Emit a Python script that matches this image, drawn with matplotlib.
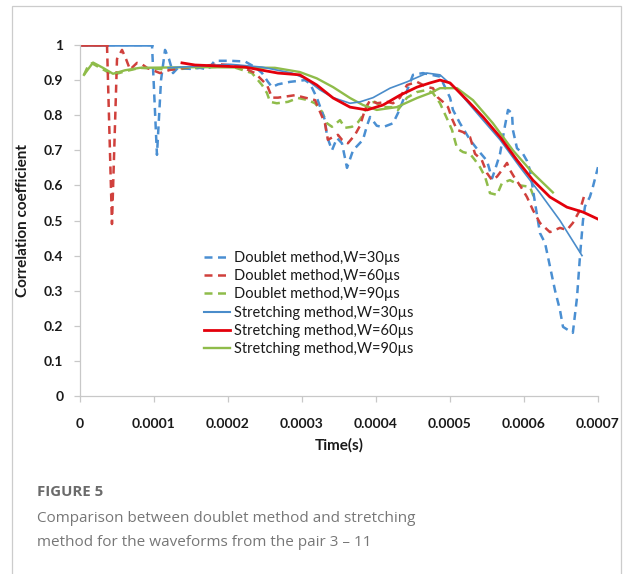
"""Correlation coefficient vs. time: doublet method against stretching method."""

import matplotlib
matplotlib.use("Agg")
import matplotlib.pyplot as plt
import numpy as np
from matplotlib.lines import Line2D
from matplotlib.patches import Rectangle

# time axis in microseconds, converted to seconds when plotting
D30_T = [0, 97.3, 104, 109.5, 114.9, 120.3, 125.7, 132.4, 148.6, 162, 173, 182, 203, 223,
         236.5, 246, 254, 259.5, 267.6, 283.8, 304, 310.8, 320, 331, 333.8, 340.5, 347.3,
         354, 360.8, 369, 382.4, 387.8, 392, 401, 409.5, 423, 429.7, 441.9, 450, 463.5,
         486.5, 500, 504, 513.5, 527, 538, 550, 556.8, 560.8, 567.6, 574.3, 578.4, 583.8,
         585, 590.5, 598.6, 604, 608, 614.9, 621.6, 628.4, 635, 642, 648.6, 652.7, 659.5,
         666, 671.6, 675.7, 679.7, 682.4, 689, 693, 700]
D30_R = [1.0, 1.0, 0.687, 0.90, 0.986, 0.96, 0.92, 0.935, 0.932, 0.935, 0.93, 0.955, 0.955,
         0.953, 0.937, 0.92, 0.895, 0.88, 0.888, 0.895, 0.90, 0.89, 0.85, 0.786, 0.74, 0.70,
         0.735, 0.72, 0.65, 0.70, 0.73, 0.77, 0.795, 0.77, 0.766, 0.777, 0.806, 0.87, 0.915,
         0.92, 0.91, 0.85, 0.815, 0.777, 0.73, 0.70, 0.67, 0.62, 0.644, 0.69, 0.77, 0.815,
         0.806, 0.758, 0.706, 0.69, 0.67, 0.644, 0.55, 0.464, 0.436, 0.37, 0.30, 0.245,
         0.197, 0.188, 0.18, 0.28, 0.40, 0.50, 0.54, 0.567, 0.595, 0.652]

D60_T = [0, 36.5, 43.2, 50, 56.8, 62.2, 67.6, 77, 83.8, 90.5, 108, 121.6, 142, 162, 189, 216,
         236.5, 246, 252.7, 259.5, 267.6, 290.5, 304, 317.6, 321.6, 331, 335, 342, 348.6,
         354, 362, 371.6, 378.4, 385, 392, 401, 414.9, 423, 432.4, 441.9, 455.4, 469, 477,
         483.8, 490.5, 497.3, 502.7, 509.5, 517.6, 527, 533.8, 543, 550, 556.8, 563.5,
         570.3, 577, 581, 587.8, 594.6, 604, 612, 621.6, 635, 648.6, 658, 666, 675.7, 682.4]
D60_R = [1.0, 1.0, 0.49, 0.96, 0.986, 0.96, 0.93, 0.949, 0.945, 0.935, 0.92, 0.929, 0.935,
         0.94, 0.945, 0.94, 0.92, 0.90, 0.886, 0.85, 0.85, 0.857, 0.85, 0.843, 0.823, 0.777,
         0.73, 0.738, 0.744, 0.73, 0.72, 0.744, 0.77, 0.815, 0.843, 0.834, 0.838, 0.834,
         0.85, 0.886, 0.895, 0.88, 0.877, 0.85, 0.838, 0.823, 0.79, 0.758, 0.752, 0.738,
         0.69, 0.672, 0.635, 0.615, 0.625, 0.644, 0.664, 0.644, 0.62, 0.60, 0.567, 0.53,
         0.493, 0.467, 0.479, 0.473, 0.493, 0.53, 0.578]

D90_T = [5.4, 10.8, 16.2, 27, 44.6, 60.8, 81, 121.6, 162, 203, 232.4, 246, 252.7, 256.8, 266,
         281, 294.6, 308, 317.6, 327, 333.8, 340.5, 351.4, 358, 367.6, 375.7, 382.4, 389,
         398.6, 409.5, 423, 429.7, 441.9, 455.4, 469, 477, 486.5, 496, 502.7, 509.5, 517.6,
         527, 533.8, 540.5, 547.3, 554, 563.5, 570.3, 581, 594.6, 608, 614.9]
D90_R = [0.915, 0.94, 0.948, 0.935, 0.915, 0.925, 0.935, 0.93, 0.935, 0.94, 0.92, 0.886,
         0.863, 0.838, 0.834, 0.838, 0.849, 0.843, 0.834, 0.81, 0.777, 0.767, 0.786, 0.764,
         0.767, 0.78, 0.80, 0.834, 0.838, 0.823, 0.823, 0.815, 0.85, 0.866, 0.872, 0.863,
         0.834, 0.79, 0.758, 0.706, 0.695, 0.69, 0.672, 0.652, 0.625, 0.578, 0.573, 0.607,
         0.615, 0.60, 0.596, 0.558]

S30_T = [119, 162, 203, 246, 286.5, 304, 324.3, 342, 364.9, 378.4, 396, 419, 441.9, 463.5,
         469, 486.5, 509.5, 544.6, 567.6, 594.6, 621.6, 648.6, 678.4]
S30_R = [0.935, 0.94, 0.945, 0.937, 0.92, 0.905, 0.872, 0.85, 0.834, 0.838, 0.85, 0.877,
         0.895, 0.915, 0.92, 0.915, 0.872, 0.786, 0.73, 0.652, 0.578, 0.50, 0.40]

S60_T = [137.8, 155.4, 223, 267.6, 297, 320, 342, 364.9, 387.8, 409.5, 432.4, 455.4, 473,
         486.5, 500, 523, 544.6, 567.6, 590.5, 612, 635, 658, 679.7, 700]
S60_R = [0.949, 0.943, 0.937, 0.92, 0.915, 0.886, 0.849, 0.823, 0.815, 0.829, 0.857, 0.88,
         0.892, 0.90, 0.892, 0.843, 0.795, 0.738, 0.672, 0.615, 0.567, 0.538, 0.524, 0.504]

S90_T = [5.4, 17.6, 31, 44.6, 60.8, 81, 162, 263.5, 297, 320, 342, 364.9, 382.4, 401, 428,
         455.4, 473, 486.5, 509.5, 531, 558, 585, 612, 639]
S90_R = [0.915, 0.95, 0.935, 0.918, 0.928, 0.935, 0.937, 0.935, 0.923, 0.905, 0.88, 0.849,
         0.829, 0.815, 0.823, 0.849, 0.863, 0.877, 0.877, 0.843, 0.777, 0.70, 0.635, 0.58]

LABELS = ["Doublet method,W=30µs", "Doublet method,W=60µs", "Doublet method,W=90µs",
          "Stretching method,W=30µs", "Stretching method,W=60µs", "Stretching method,W=90µs"]
X_TICKS = [0, 0.0001, 0.0002, 0.0003, 0.0004, 0.0005, 0.0006, 0.0007]
Y_TICKS = [0, 0.1, 0.2, 0.3, 0.4, 0.5, 0.6, 0.7, 0.8, 0.9, 1]

BLUE = "#4a8fd2"
RED_D = "#d0403c"
GREEN = "#8fbc4a"
RED_S = "#e3000b"
BLUE_S = "#4a8cca"

plt.rcParams["font.family"] = ["Lato", "DejaVu Sans"]

fig = plt.figure(figsize=(6.28, 5.74), dpi=100)

# light frame around the figure panel
fig.add_artist(Rectangle((12 / 628, -0.05), 609 / 628, 1.05 - 6 / 574,
                         transform=fig.transFigure, fill=False,
                         edgecolor="#cccccc", linewidth=0.9))

ax = fig.add_axes([80 / 628, 178 / 574, 518 / 628, 351 / 574])


def us(t):
    return np.asarray(t) * 1e-6


def dashed(t, r, color):
    t, r = us(t), np.asarray(r)
    ax.plot(t, r, color=color, linewidth=1.8, dashes=(3.2, 2.2), solid_capstyle="butt")
    # runs pinned at 1.0 render as a continuous line
    flat = r >= 1.0
    ax.plot(t[flat], r[flat], color=color, linewidth=1.8)


dashed(D90_T, D90_R, GREEN)
dashed(D30_T, D30_R, BLUE)
dashed(D60_T, D60_R, RED_D)
ax.plot(us(S90_T), S90_R, color=GREEN, linewidth=1.7)
ax.plot(us(S30_T), S30_R, color=BLUE_S, linewidth=1.2)
ax.plot(us(S60_T), S60_R, color=RED_S, linewidth=2.0)

ax.set_xlim(0, 0.0007)
ax.set_ylim(0, 1)
ax.set_xticks(X_TICKS)
ax.set_xticklabels(["0" if v == 0 else f"{v:.4f}" for v in X_TICKS])
ax.set_yticks(Y_TICKS)
ax.set_yticklabels(["0" if v == 0 else ("1" if v == 1 else f"{v:.1f}") for v in Y_TICKS])
for side in ("top", "right"):
    ax.spines[side].set_visible(False)
for side in ("left", "bottom"):
    ax.spines[side].set_color("#c8c8c8")
    ax.spines[side].set_linewidth(0.9)
ax.tick_params(axis="both", colors="#c8c8c8", length=4, width=0.9, labelcolor="#1a1a1a",
               labelsize=10)
ax.tick_params(axis="x", pad=12)
ax.tick_params(axis="y", pad=8)
for lbl in ax.get_xticklabels() + ax.get_yticklabels():
    lbl.set_fontweight("bold")

ax.set_xlabel("Time(s)", fontsize=11, fontweight="bold", color="#1a1a1a", labelpad=6)
ax.set_ylabel("Correlation coefficient", fontsize=11, fontweight="bold", color="#1a1a1a",
              labelpad=10)

handles = [
    Line2D([], [], color=BLUE, linewidth=1.8, dashes=(3.2, 2.2)),
    Line2D([], [], color=RED_D, linewidth=1.8, dashes=(3.2, 2.2)),
    Line2D([], [], color=GREEN, linewidth=1.8, dashes=(3.2, 2.2)),
    Line2D([], [], color=BLUE_S, linewidth=1.5),
    Line2D([], [], color=RED_S, linewidth=2.0),
    Line2D([], [], color=GREEN, linewidth=1.7),
]
leg = ax.legend(handles, LABELS, loc="upper left", bbox_to_anchor=(0.225, 0.435),
                frameon=False, fontsize=10.5, handlelength=1.8, handletextpad=0.25,
                labelspacing=0.3, borderpad=0)
for txt in leg.get_texts():
    txt.set_color("#1a1a1a")

fig.text(37 / 628, 1 - 492 / 574, "FIGURE 5", fontsize=10.8, fontweight="bold",
         color="#6b6b6b", family=["Open Sans", "DejaVu Sans"], va="center")
fig.text(37 / 628, 1 - 519 / 574, "Comparison between doublet method and stretching",
         fontsize=11.0, color="#777777", family=["Open Sans", "DejaVu Sans"], va="center")
fig.text(37 / 628, 1 - 543 / 574, "method for the waveforms from the pair 3 \u2013 11",
         fontsize=11.0, color="#777777", family=["Open Sans", "DejaVu Sans"], va="center")

fig.savefig("out.png", dpi=100)
